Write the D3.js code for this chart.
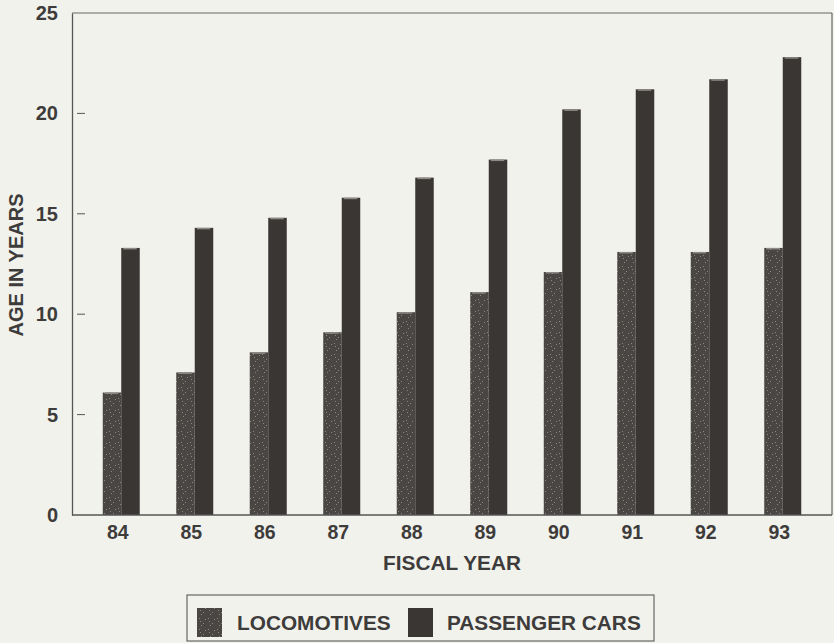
<!DOCTYPE html>
<html>
<head>
<meta charset="utf-8">
<script src="https://cdn.jsdelivr.net/npm/d3@7"></script>
<style>
  html, body { margin: 0; padding: 0; background: #f2f2ed; }
  svg { display: block; }
  text { font-family: "Liberation Sans", Arial, sans-serif; fill: #3e3c3b; font-weight: bold; }
</style>
</head>
<body>
<svg id="chart" width="834" height="643"></svg>
<script>
const years = ["84","85","86","87","88","89","90","91","92","93"];
const locomotives = [6.1, 7.1, 8.1, 9.1, 10.1, 11.1, 12.1, 13.1, 13.1, 13.3];
const passengerCars = [13.3, 14.3, 14.8, 15.8, 16.8, 17.7, 20.2, 21.2, 21.7, 22.8];
const yTicks = [0, 5, 10, 15, 20, 25];
const seriesNames = ["LOCOMOTIVES", "PASSENGER CARS"];
const seriesColors = ["#4a4643", "#3a3634"];

(function () {
const svg = d3.select("#chart");
const mLeft = 72, mRight = 832, mTop = 13, mBottom = 515;
const fontFam = "Liberation Sans, Arial, sans-serif";

const x = d3.scalePoint().domain(years).range([mLeft, mRight]).padding(0.67);
const y = d3.scaleLinear().domain([0, 25]).range([mBottom, mTop]);
const barW = 18.5;

// speckle pattern for locomotive bars
const defs = svg.append("defs");
const pat = defs.append("pattern").attr("id", "speck").attr("patternUnits", "userSpaceOnUse")
  .attr("width", 9).attr("height", 11);
pat.append("rect").attr("width", 9).attr("height", 11).attr("fill", seriesColors[0]);
[[1,2],[5,7],[3,9],[7,3],[2,5]].forEach(p => pat.append("rect").attr("x", p[0]).attr("y", p[1])
  .attr("width", 1).attr("height", 1).attr("fill", "#8a8682"));

// frame
svg.append("line").attr("x1", mLeft).attr("x2", mRight).attr("y1", mTop).attr("y2", mTop)
  .attr("stroke", "#666").attr("stroke-width", 1.2);
svg.append("line").attr("x1", mRight).attr("x2", mRight).attr("y1", mTop).attr("y2", mBottom)
  .attr("stroke", "#666").attr("stroke-width", 1.2);

// bars
const g = svg.append("g");
years.forEach((yr, i) => {
  const cx = x(yr);
  g.append("rect").attr("x", cx - barW).attr("y", y(locomotives[i]))
    .attr("width", barW).attr("height", y(0) - y(locomotives[i]))
    .attr("fill", "url(#speck)");
  g.append("rect").attr("x", cx - barW + 2).attr("y", y(locomotives[i]))
    .attr("width", barW - 5).attr("height", 1.5).attr("fill", "#8d8a86");
  g.append("rect").attr("x", cx).attr("y", y(passengerCars[i]))
    .attr("width", barW).attr("height", y(0) - y(passengerCars[i]))
    .attr("fill", seriesColors[1]);
  g.append("rect").attr("x", cx + 2).attr("y", y(passengerCars[i]))
    .attr("width", barW - 5).attr("height", 1.5).attr("fill", "#8d8a86");
});

// y axis
const yAxis = d3.axisLeft(y).tickValues(yTicks).tickSize(0).tickPadding(14);
const ya = svg.append("g").attr("transform", `translate(${mLeft},0)`).call(yAxis);
ya.select(".domain").attr("stroke", "#555").attr("stroke-width", 1.3);
ya.selectAll("text").attr("font-size", 20).attr("fill", "#3e3c3b")
  .attr("font-family", fontFam).attr("font-weight", "bold");
// inner tick dashes
svg.append("g").selectAll("line").data(yTicks.filter(t => t > 0 && t < 25)).join("line")
  .attr("x1", mLeft + 5).attr("x2", mLeft + 13)
  .attr("y1", d => y(d)).attr("y2", d => y(d))
  .attr("stroke", "#555").attr("stroke-width", 1);

// x axis
const xAxis = d3.axisBottom(x).tickSize(0).tickPadding(10);
const xa = svg.append("g").attr("transform", `translate(0,${mBottom})`).call(xAxis);
xa.select(".domain").attr("stroke", "#555").attr("stroke-width", 1.3)
  .attr("d", `M${mLeft},0H${mRight}`);
xa.selectAll("text").attr("font-size", 19.5).attr("fill", "#3e3c3b")
  .attr("font-family", fontFam).attr("font-weight", "bold")
  .attr("dx", -4);

// axis titles
svg.append("text").attr("x", 452).attr("y", 570).attr("text-anchor", "middle")
  .attr("font-size", 20.8).text("FISCAL YEAR");
svg.append("text").attr("transform", "translate(23,265) rotate(-90)")
  .attr("text-anchor", "middle").attr("font-size", 20).text("AGE IN YEARS");

// legend
const lg = svg.append("g");
lg.append("rect").attr("x", 187).attr("y", 595).attr("width", 467).attr("height", 46)
  .attr("fill", "none").attr("stroke", "#666").attr("stroke-width", 1.2);
const legendItems = [
  { sx: 197, tx: 237, fill: "url(#speck)" },
  { sx: 408, tx: 447, fill: seriesColors[1] }
];
legendItems.forEach((d, i) => {
  lg.append("rect").attr("x", d.sx).attr("y", 608).attr("width", 25).attr("height", 29)
    .attr("fill", d.fill);
  lg.append("text").attr("x", d.tx).attr("y", 630).attr("font-size", 20.8)
    .text(seriesNames[i]);
});
})();
</script>
</body>
</html>
